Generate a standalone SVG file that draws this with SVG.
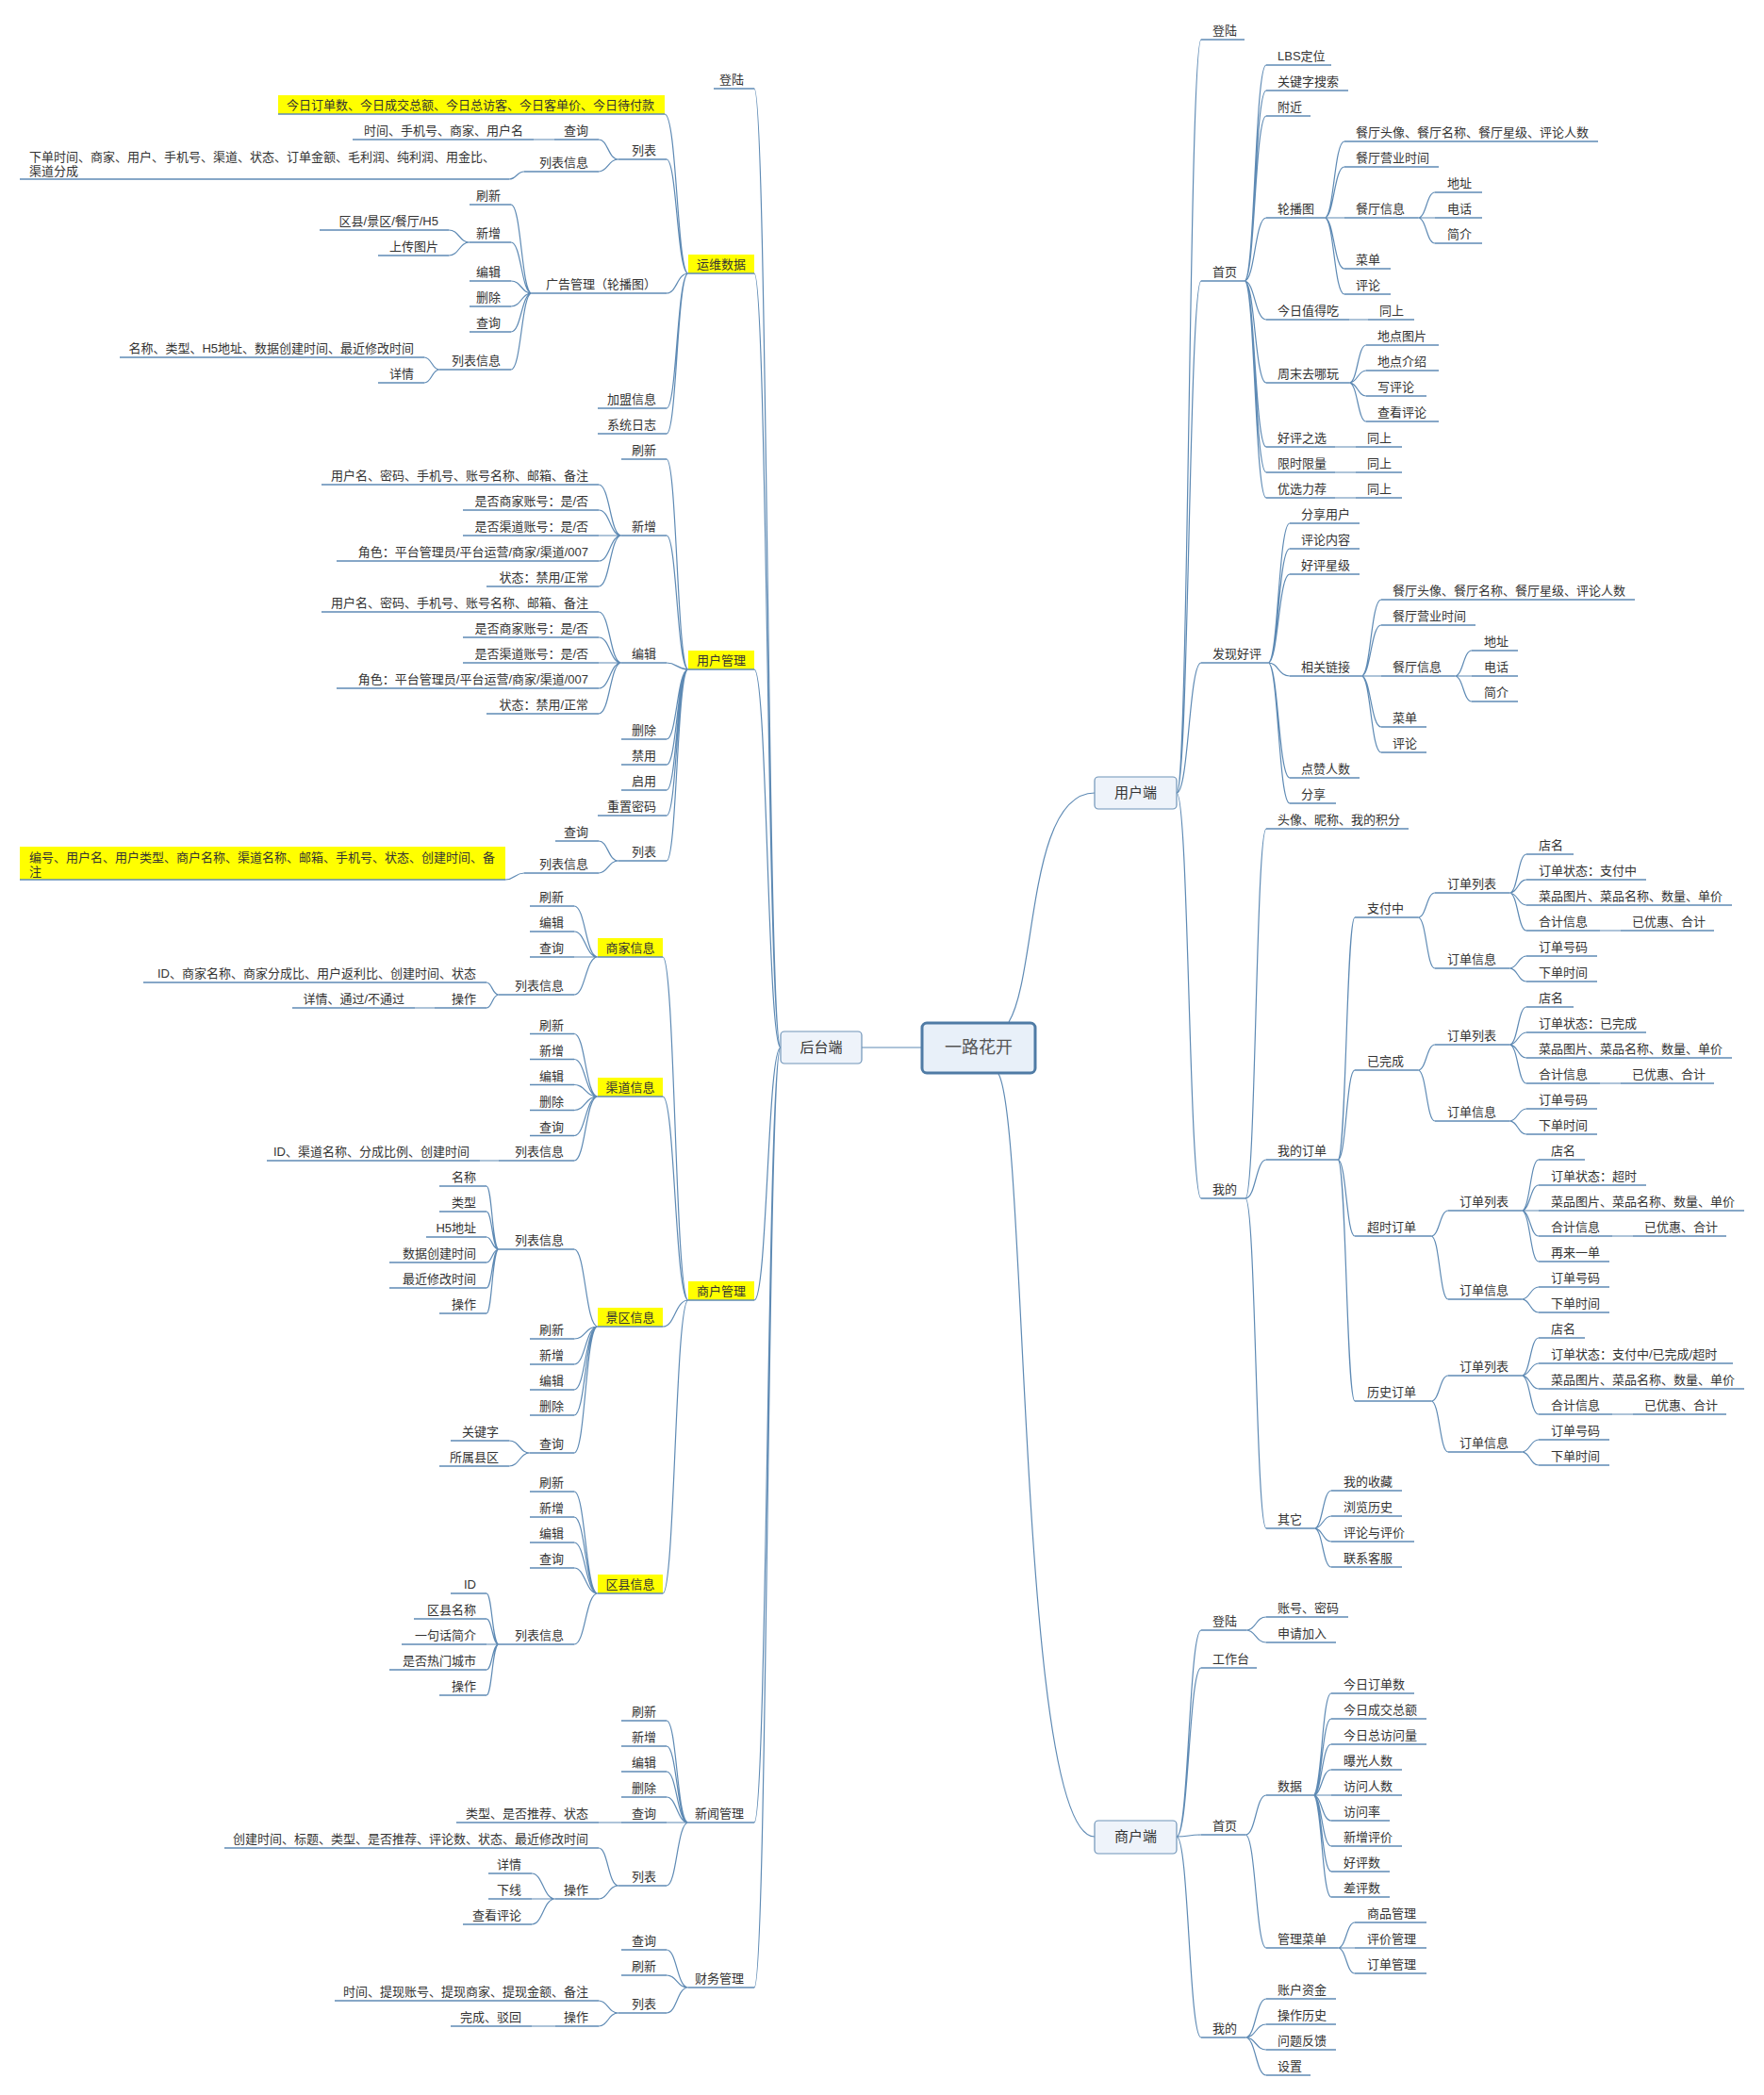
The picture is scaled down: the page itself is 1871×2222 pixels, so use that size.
<svg xmlns="http://www.w3.org/2000/svg" width="1871" height="2222" viewBox="0 0 1871 2222">
<style>
.t{font-family:"Liberation Sans","Noto Sans CJK SC",sans-serif;font-size:13px;fill:#333}
.e{text-anchor:end}
.m{text-anchor:middle}
.u{stroke:#5e8ab4;stroke-width:1.3;fill:none}
.c{stroke:#5e8ab4;stroke-width:1.2;fill:none}
.hl{fill:#ffff00}
.box{fill:#eef3fa;stroke:#6f94b8;stroke-width:1.2}
.root{fill:#e8f0f9;stroke:#4f7ba5;stroke-width:3}
.bt{font-size:15px}
.rt{font-size:18px;fill:#555}
</style>
<rect width="1871" height="2222" fill="#ffffff"/>
<g id="connectors" class="c">
<path d="M1070 1084C1100 1035 1090 841 1161 841"/>
<path d="M1059 1139C1090 1190 1080 1948 1161 1948"/>
<path d="M977 1111H914"/>
<path d="M828 1111C814 1111 814 94 800 94M828 1111C814 1111 814 290 800 290M828 1111C814 1111 814 710 800 710M828 1111C814 1111 814 1379 800 1379M828 1111C814 1111 814 1933 800 1933M828 1111C814 1111 814 2108 800 2108"/>
<path d="M730 290C718 290 718 121 705 121M730 290C718 290 718 169 707 169M730 290C718 290 718 311 707 311M730 290C718 290 718 433 707 433M730 290C718 290 718 460 707 460"/>
<path d="M656 169C645 169 645 148 635 148M656 169C645 169 645 182 635 182M588 148H566M556 182C548 182 548 190 540 190"/>
<path d="M564 311C553 311 553 217 542 217M564 311C553 311 553 257 542 257M564 311C553 311 553 298 542 298M564 311C553 311 553 325 542 325M564 311C553 311 553 352 542 352M564 311C553 311 553 392 542 392"/>
<path d="M498 257C487 257 487 244 476 244M498 257C487 257 487 271 476 271M466 392C458 392 458 379 450 379M466 392C458 392 458 406 450 406"/>
<path d="M730 710C718 710 718 487 707 487M730 710C718 710 718 568 707 568M730 710C718 710 718 703 707 703M730 710C718 710 718 784 707 784M730 710C718 710 718 811 707 811M730 710C718 710 718 838 707 838M730 710C718 710 718 865 707 865M730 710C718 710 718 913 707 913"/>
<path d="M659 568C647 568 647 514 635 514M659 568C647 568 647 541 635 541M659 568H635M659 568C647 568 647 595 635 595M659 568C647 568 647 622 635 622"/>
<path d="M659 703C647 703 647 649 635 649M659 703C647 703 647 676 635 676M659 703H635M659 703C647 703 647 730 635 730M659 703C647 703 647 757 635 757"/>
<path d="M656 913C645 913 645 892 635 892M656 913C645 913 645 926 635 926M556 926C546 926 546 933 536 933"/>
<path d="M730 1379C716 1379 716 1015 703 1015M730 1379C716 1379 716 1163 703 1163M730 1379C716 1379 716 1407 703 1407M730 1379C716 1379 716 1690 703 1690"/>
<path d="M634 1015C621 1015 621 961 609 961M634 1015C621 1015 621 988 609 988M634 1015H609M634 1015C621 1015 621 1055 609 1055M529 1055C522 1055 522 1042 516 1042M529 1055C522 1055 522 1069 516 1069M461 1069H440"/>
<path d="M634 1163C621 1163 621 1096.5 609 1096.5M634 1163C621 1163 621 1123.5 609 1123.5M634 1163C621 1163 621 1150.5 609 1150.5M634 1163C621 1163 621 1177.5 609 1177.5M634 1163C621 1163 621 1204.5 609 1204.5M634 1163C621 1163 621 1231 609 1231M529 1231H509"/>
<path d="M634 1407C621 1407 621 1325 609 1325M634 1407C621 1407 621 1420 609 1420M634 1407C621 1407 621 1447 609 1447M634 1407C621 1407 621 1474 609 1474M634 1407C621 1407 621 1501 609 1501M634 1407C621 1407 621 1541 609 1541"/>
<path d="M529 1325C522 1325 522 1258 516 1258M529 1325C522 1325 522 1285 516 1285M529 1325C522 1325 522 1312 516 1312M529 1325C522 1325 522 1339 516 1339M529 1325C522 1325 522 1366 516 1366M529 1325C522 1325 522 1393 516 1393M562 1541C551 1541 551 1528 540 1528M562 1541C551 1541 551 1555 540 1555"/>
<path d="M634 1690C621 1690 621 1582 609 1582M634 1690C621 1690 621 1609 609 1609M634 1690C621 1690 621 1636 609 1636M634 1690C621 1690 621 1663 609 1663M634 1690C621 1690 621 1744 609 1744"/>
<path d="M529 1744C522 1744 522 1690 516 1690M529 1744C522 1744 522 1717 516 1717M529 1744H516M529 1744C522 1744 522 1771 516 1771M529 1744C522 1744 522 1798 516 1798"/>
<path d="M730 1933C718 1933 718 1825 707 1825M730 1933C718 1933 718 1852 707 1852M730 1933C718 1933 718 1879 707 1879M730 1933C718 1933 718 1906 707 1906M730 1933H707M730 1933C718 1933 718 2000 707 2000M659 1933H635"/>
<path d="M656 2000C645 2000 645 1960 635 1960M656 2000C645 2000 645 2014 635 2014M589 2014C576 2014 576 1987 564 1987M589 2014H564M589 2014C576 2014 576 2041 564 2041"/>
<path d="M730 2108C718 2108 718 2068 707 2068M730 2108C718 2108 718 2095 707 2095M730 2108C718 2108 718 2135 707 2135M656 2135C645 2135 645 2122 635 2122M656 2135C645 2135 645 2149 635 2149M589 2149H564"/>
<path d="M1248 841C1261 841 1261 42 1274 42M1248 841C1261 841 1261 298 1274 298M1248 841C1261 841 1261 703 1274 703M1248 841C1261 841 1261 1271 1274 1271"/>
<path d="M1320 298C1331 298 1331 69 1343 69M1320 298C1331 298 1331 96 1343 96M1320 298C1331 298 1331 123 1343 123M1320 298C1331 298 1331 231 1343 231M1320 298C1331 298 1331 339 1343 339M1320 298C1331 298 1331 406 1343 406M1320 298C1331 298 1331 474 1343 474M1320 298C1331 298 1331 501 1343 501M1320 298C1331 298 1331 528 1343 528"/>
<path d="M1405 231C1415 231 1415 150 1426 150M1405 231C1415 231 1415 177 1426 177M1405 231H1426M1405 231C1415 231 1415 285 1426 285M1405 231C1415 231 1415 312 1426 312M1504 231C1513 231 1513 204 1522 204M1504 231H1522M1504 231C1513 231 1513 258 1522 258"/>
<path d="M1431 339H1451M1431 406C1440 406 1440 366 1449 366M1431 406C1440 406 1440 393 1449 393M1431 406C1440 406 1440 420 1449 420M1431 406C1440 406 1440 447 1449 447M1416 474H1438M1416 501H1438M1416 528H1438"/>
<path d="M1345 703C1356 703 1356 555 1368 555M1345 703C1356 703 1356 582 1368 582M1345 703C1356 703 1356 609 1368 609M1345 703C1356 703 1356 717 1368 717M1345 703C1356 703 1356 825 1368 825M1345 703C1356 703 1356 852 1368 852"/>
<path d="M1444 717C1454 717 1454 636 1465 636M1444 717C1454 717 1454 663 1465 663M1444 717H1465M1444 717C1454 717 1454 771 1465 771M1444 717C1454 717 1454 798 1465 798M1543 717C1552 717 1552 690 1561 690M1543 717H1561M1543 717C1552 717 1552 744 1561 744"/>
<path d="M1321 1271C1332 1271 1332 879 1343 879M1321 1271C1332 1271 1332 1230 1343 1230M1321 1271C1332 1271 1332 1621 1343 1621"/>
<path d="M1419 1230C1428 1230 1428 973 1437 973M1419 1230C1428 1230 1428 1135 1437 1135M1419 1230C1428 1230 1428 1311 1437 1311M1419 1230C1428 1230 1428 1486 1437 1486"/>
<path d="M1504 973C1513 973 1513 947 1522 947M1504 973C1513 973 1513 1027 1522 1027M1601 947C1610 947 1610 906 1619 906M1601 947C1610 947 1610 933 1619 933M1601 947C1610 947 1610 960 1619 960M1601 947C1610 947 1610 987 1619 987M1697 987H1719M1601 1027C1610 1027 1610 1014 1619 1014M1601 1027C1610 1027 1610 1041 1619 1041"/>
<path d="M1504 1135C1513 1135 1513 1108 1522 1108M1504 1135C1513 1135 1513 1189 1522 1189M1601 1108C1610 1108 1610 1068 1619 1068M1601 1108C1610 1108 1610 1095 1619 1095M1601 1108C1610 1108 1610 1122 1619 1122M1601 1108C1610 1108 1610 1149 1619 1149M1697 1149H1719M1601 1189C1610 1189 1610 1176 1619 1176M1601 1189C1610 1189 1610 1203 1619 1203"/>
<path d="M1518 1311C1527 1311 1527 1284 1536 1284M1518 1311C1527 1311 1527 1378 1536 1378M1614 1284C1623 1284 1623 1230 1632 1230M1614 1284C1623 1284 1623 1257 1632 1257M1614 1284H1632M1614 1284C1623 1284 1623 1311 1632 1311M1614 1284C1623 1284 1623 1338 1632 1338M1710 1311H1732M1614 1378C1623 1378 1623 1365 1632 1365M1614 1378C1623 1378 1623 1392 1632 1392"/>
<path d="M1518 1486C1527 1486 1527 1459 1536 1459M1518 1486C1527 1486 1527 1540 1536 1540M1614 1459C1623 1459 1623 1419 1632 1419M1614 1459C1623 1459 1623 1446 1632 1446M1614 1459C1623 1459 1623 1473 1632 1473M1614 1459C1623 1459 1623 1500 1632 1500M1710 1500H1732M1614 1540C1623 1540 1623 1527 1632 1527M1614 1540C1623 1540 1623 1554 1632 1554"/>
<path d="M1394 1621C1403 1621 1403 1581 1412 1581M1394 1621C1403 1621 1403 1608 1412 1608M1394 1621C1403 1621 1403 1635 1412 1635M1394 1621C1403 1621 1403 1662 1412 1662"/>
<path d="M1248 1948C1261 1948 1261 1729 1274 1729M1248 1948C1261 1948 1261 1769 1274 1769M1248 1948C1261 1948 1261 1946 1274 1946M1248 1948C1261 1948 1261 2161 1274 2161"/>
<path d="M1322 1729C1332 1729 1332 1715 1343 1715M1322 1729C1332 1729 1332 1742 1343 1742M1321 1946C1332 1946 1332 1904 1343 1904M1321 1946C1332 1946 1332 2066 1343 2066"/>
<path d="M1393 1904C1402 1904 1402 1796 1412 1796M1393 1904C1402 1904 1402 1823 1412 1823M1393 1904C1402 1904 1402 1850 1412 1850M1393 1904C1402 1904 1402 1877 1412 1877M1393 1904H1412M1393 1904C1402 1904 1402 1931 1412 1931M1393 1904C1402 1904 1402 1958 1412 1958M1393 1904C1402 1904 1402 1985 1412 1985M1393 1904C1402 1904 1402 2012 1412 2012"/>
<path d="M1419 2066C1428 2066 1428 2039 1437 2039M1419 2066H1437M1419 2066C1428 2066 1428 2093 1437 2093"/>
<path d="M1321 2161C1332 2161 1332 2120 1343 2120M1321 2161C1332 2161 1332 2147 1343 2147M1321 2161C1332 2161 1332 2174 1343 2174M1321 2161C1332 2161 1332 2201 1343 2201"/>
</g>
<g id="root"><rect class="root" x="978" y="1085" width="120" height="53" rx="5"/><text class="t m rt" x="1038" y="1117">一路花开</text></g>
<g id="backend"><rect class="box" x="828" y="1094" width="86" height="34" rx="4"/><text class="t m bt" x="871" y="1116">后台端</text></g>
<g id="userend"><rect class="box" x="1161" y="824" width="87" height="34" rx="4"/><text class="t m bt" x="1204.5" y="846">用户端</text></g>
<g id="merchantend"><rect class="box" x="1161" y="1931" width="87" height="35" rx="4"/><text class="t m bt" x="1204.5" y="1953">商户端</text></g>

<g id="b1"><text class="t e" x="789" y="89">登陆</text><path class="u" d="M757 94H800"/></g>
<g id="b2"><rect class="hl" x="730" y="270" width="70" height="20"/><text class="t m" x="765" y="285">运维数据</text><path class="u" d="M730 290H800"/></g>
<g id="b2a"><rect class="hl" x="295" y="101" width="410" height="20"/><text class="t" x="304" y="116">今日订单数、今日成交总额、今日总访客、今日客单价、今日待付款</text><path class="u" d="M295 121H705"/></g>
<g id="b2b"><text class="t e" x="696" y="164">列表</text><path class="u" d="M656 169H707"/></g>
<g id="b2b1"><text class="t e" x="624" y="143">查询</text><path class="u" d="M588 148H635"/></g>
<g id="b2b1a"><text class="t e" x="555" y="143">时间、手机号、商家、用户名</text><path class="u" d="M374 148H566"/></g>
<g id="b2b2"><text class="t e" x="624" y="177">列表信息</text><path class="u" d="M556 182H635"/></g>
<g id="b2b2a"><text class="t" x="31" y="171">下单时间、商家、用户、手机号、渠道、状态、订单金额、毛利润、纯利润、用金比、</text><text class="t" x="31" y="186">渠道分成</text><path class="u" d="M21 190H540"/></g>
<g id="b2c"><text class="t e" x="696" y="306">广告管理（轮播图）</text><path class="u" d="M564 311H707"/></g>
<g id="b2c1"><text class="t e" x="531" y="212">刷新</text><path class="u" d="M498 217H542"/></g>
<g id="b2c2"><text class="t e" x="531" y="252">新增</text><path class="u" d="M498 257H542"/></g>
<g id="b2c2a"><text class="t e" x="465" y="239">区县/景区/餐厅/H5</text><path class="u" d="M339 244H476"/></g>
<g id="b2c2b"><text class="t e" x="465" y="266">上传图片</text><path class="u" d="M401 271H476"/></g>
<g id="b2c3"><text class="t e" x="531" y="293">编辑</text><path class="u" d="M498 298H542"/></g>
<g id="b2c4"><text class="t e" x="531" y="320">删除</text><path class="u" d="M498 325H542"/></g>
<g id="b2c5"><text class="t e" x="531" y="347">查询</text><path class="u" d="M498 352H542"/></g>
<g id="b2c6"><text class="t e" x="531" y="387">列表信息</text><path class="u" d="M466 392H542"/></g>
<g id="b2c6a"><text class="t e" x="439" y="374">名称、类型、H5地址、数据创建时间、最近修改时间</text><path class="u" d="M127 379H450"/></g>
<g id="b2c6b"><text class="t e" x="439" y="401">详情</text><path class="u" d="M401 406H450"/></g>
<g id="b2d"><text class="t e" x="696" y="428">加盟信息</text><path class="u" d="M634 433H707"/></g>
<g id="b2e"><text class="t e" x="696" y="455">系统日志</text><path class="u" d="M634 460H707"/></g>

<g id="b3"><rect class="hl" x="730" y="690" width="70" height="20"/><text class="t m" x="765" y="705">用户管理</text><path class="u" d="M730 710H800"/></g>
<g id="b3a"><text class="t e" x="696" y="482">刷新</text><path class="u" d="M659 487H707"/></g>
<g id="b3b"><text class="t e" x="696" y="563">新增</text><path class="u" d="M659 568H707"/></g>
<g id="b3b1"><text class="t e" x="624" y="509">用户名、密码、手机号、账号名称、邮箱、备注</text><path class="u" d="M341 514H635"/></g>
<g id="b3b2"><text class="t e" x="624" y="536">是否商家账号：是/否</text><path class="u" d="M491 541H635"/></g>
<g id="b3b3"><text class="t e" x="624" y="563">是否渠道账号：是/否</text><path class="u" d="M491 568H635"/></g>
<g id="b3b4"><text class="t e" x="624" y="590">角色：平台管理员/平台运营/商家/渠道/007</text><path class="u" d="M357 595H635"/></g>
<g id="b3b5"><text class="t e" x="624" y="617">状态：禁用/正常</text><path class="u" d="M516 622H635"/></g>
<g id="b3c"><text class="t e" x="696" y="698">编辑</text><path class="u" d="M659 703H707"/></g>
<g id="b3c1"><text class="t e" x="624" y="644">用户名、密码、手机号、账号名称、邮箱、备注</text><path class="u" d="M341 649H635"/></g>
<g id="b3c2"><text class="t e" x="624" y="671">是否商家账号：是/否</text><path class="u" d="M491 676H635"/></g>
<g id="b3c3"><text class="t e" x="624" y="698">是否渠道账号：是/否</text><path class="u" d="M491 703H635"/></g>
<g id="b3c4"><text class="t e" x="624" y="725">角色：平台管理员/平台运营/商家/渠道/007</text><path class="u" d="M357 730H635"/></g>
<g id="b3c5"><text class="t e" x="624" y="752">状态：禁用/正常</text><path class="u" d="M516 757H635"/></g>
<g id="b3d"><text class="t e" x="696" y="779">删除</text><path class="u" d="M659 784H707"/></g>
<g id="b3e"><text class="t e" x="696" y="806">禁用</text><path class="u" d="M659 811H707"/></g>
<g id="b3f"><text class="t e" x="696" y="833">启用</text><path class="u" d="M659 838H707"/></g>
<g id="b3g"><text class="t e" x="696" y="860">重置密码</text><path class="u" d="M634 865H707"/></g>
<g id="b3h"><text class="t e" x="696" y="908">列表</text><path class="u" d="M656 913H707"/></g>
<g id="b3h1"><text class="t e" x="624" y="887">查询</text><path class="u" d="M589 892H635"/></g>
<g id="b3h2"><text class="t e" x="624" y="921">列表信息</text><path class="u" d="M556 926H635"/></g>
<g id="b3h2a"><rect class="hl" x="21" y="898" width="515" height="35"/><text class="t" x="31" y="914">编号、用户名、用户类型、商户名称、渠道名称、邮箱、手机号、状态、创建时间、备</text><text class="t" x="31" y="929">注</text><path class="u" d="M21 933H536"/></g>

<g id="b4"><rect class="hl" x="730" y="1359" width="70" height="20"/><text class="t m" x="765" y="1374">商户管理</text><path class="u" d="M730 1379H800"/></g>
<g id="b4a"><rect class="hl" x="634" y="995" width="69" height="20"/><text class="t m" x="668.5" y="1010">商家信息</text><path class="u" d="M634 1015H703"/></g>
<g id="b4a1"><text class="t e" x="598" y="956">刷新</text><path class="u" d="M562 961H609"/></g>
<g id="b4a2"><text class="t e" x="598" y="983">编辑</text><path class="u" d="M562 988H609"/></g>
<g id="b4a3"><text class="t e" x="598" y="1010">查询</text><path class="u" d="M562 1015H609"/></g>
<g id="b4a4"><text class="t e" x="598" y="1050">列表信息</text><path class="u" d="M529 1055H609"/></g>
<g id="b4a4a"><text class="t e" x="505" y="1037">ID、商家名称、商家分成比、用户返利比、创建时间、状态</text><path class="u" d="M152 1042H516"/></g>
<g id="b4a4b"><text class="t e" x="505" y="1064">操作</text><path class="u" d="M461 1069H516"/></g>
<g id="b4a4b1"><text class="t e" x="429" y="1064">详情、通过/不通过</text><path class="u" d="M310 1069H440"/></g>
<g id="b4b"><rect class="hl" x="634" y="1143" width="69" height="20"/><text class="t m" x="668.5" y="1158">渠道信息</text><path class="u" d="M634 1163H703"/></g>
<g id="b4b1"><text class="t e" x="598" y="1091.5">刷新</text><path class="u" d="M562 1096.5H609"/></g>
<g id="b4b2"><text class="t e" x="598" y="1118.5">新增</text><path class="u" d="M562 1123.5H609"/></g>
<g id="b4b3"><text class="t e" x="598" y="1145.5">编辑</text><path class="u" d="M562 1150.5H609"/></g>
<g id="b4b4"><text class="t e" x="598" y="1172.5">删除</text><path class="u" d="M562 1177.5H609"/></g>
<g id="b4b5"><text class="t e" x="598" y="1199.5">查询</text><path class="u" d="M562 1204.5H609"/></g>
<g id="b4b6"><text class="t e" x="598" y="1226">列表信息</text><path class="u" d="M529 1231H609"/></g>
<g id="b4b6a"><text class="t e" x="498" y="1226">ID、渠道名称、分成比例、创建时间</text><path class="u" d="M283 1231H509"/></g>
<g id="b4c"><rect class="hl" x="634" y="1387" width="69" height="20"/><text class="t m" x="668.5" y="1402">景区信息</text><path class="u" d="M634 1407H703"/></g>
<g id="b4c1"><text class="t e" x="598" y="1320">列表信息</text><path class="u" d="M529 1325H609"/></g>
<g id="b4c1a"><text class="t e" x="505" y="1253">名称</text><path class="u" d="M466 1258H516"/></g>
<g id="b4c1b"><text class="t e" x="505" y="1280">类型</text><path class="u" d="M466 1285H516"/></g>
<g id="b4c1c"><text class="t e" x="505" y="1307">H5地址</text><path class="u" d="M452 1312H516"/></g>
<g id="b4c1d"><text class="t e" x="505" y="1334">数据创建时间</text><path class="u" d="M413 1339H516"/></g>
<g id="b4c1e"><text class="t e" x="505" y="1361">最近修改时间</text><path class="u" d="M413 1366H516"/></g>
<g id="b4c1f"><text class="t e" x="505" y="1388">操作</text><path class="u" d="M466 1393H516"/></g>
<g id="b4c2"><text class="t e" x="598" y="1415">刷新</text><path class="u" d="M562 1420H609"/></g>
<g id="b4c3"><text class="t e" x="598" y="1442">新增</text><path class="u" d="M562 1447H609"/></g>
<g id="b4c4"><text class="t e" x="598" y="1469">编辑</text><path class="u" d="M562 1474H609"/></g>
<g id="b4c5"><text class="t e" x="598" y="1496">删除</text><path class="u" d="M562 1501H609"/></g>
<g id="b4c6"><text class="t e" x="598" y="1536">查询</text><path class="u" d="M562 1541H609"/></g>
<g id="b4c6a"><text class="t e" x="529" y="1523">关键字</text><path class="u" d="M478 1528H540"/></g>
<g id="b4c6b"><text class="t e" x="529" y="1550">所属县区</text><path class="u" d="M466 1555H540"/></g>
<g id="b4d"><rect class="hl" x="634" y="1670" width="69" height="20"/><text class="t m" x="668.5" y="1685">区县信息</text><path class="u" d="M634 1690H703"/></g>
<g id="b4d1"><text class="t e" x="598" y="1577">刷新</text><path class="u" d="M562 1582H609"/></g>
<g id="b4d2"><text class="t e" x="598" y="1604">新增</text><path class="u" d="M562 1609H609"/></g>
<g id="b4d3"><text class="t e" x="598" y="1631">编辑</text><path class="u" d="M562 1636H609"/></g>
<g id="b4d4"><text class="t e" x="598" y="1658">查询</text><path class="u" d="M562 1663H609"/></g>
<g id="b4d5"><text class="t e" x="598" y="1739">列表信息</text><path class="u" d="M529 1744H609"/></g>
<g id="b4d5a"><text class="t e" x="505" y="1685">ID</text><path class="u" d="M478 1690H516"/></g>
<g id="b4d5b"><text class="t e" x="505" y="1712">区县名称</text><path class="u" d="M439 1717H516"/></g>
<g id="b4d5c"><text class="t e" x="505" y="1739">一句话简介</text><path class="u" d="M426 1744H516"/></g>
<g id="b4d5d"><text class="t e" x="505" y="1766">是否热门城市</text><path class="u" d="M413 1771H516"/></g>
<g id="b4d5e"><text class="t e" x="505" y="1793">操作</text><path class="u" d="M466 1798H516"/></g>

<g id="b5"><text class="t e" x="789" y="1928">新闻管理</text><path class="u" d="M730 1933H800"/></g>
<g id="b5a"><text class="t e" x="696" y="1820">刷新</text><path class="u" d="M659 1825H707"/></g>
<g id="b5b"><text class="t e" x="696" y="1847">新增</text><path class="u" d="M659 1852H707"/></g>
<g id="b5c"><text class="t e" x="696" y="1874">编辑</text><path class="u" d="M659 1879H707"/></g>
<g id="b5d"><text class="t e" x="696" y="1901">删除</text><path class="u" d="M659 1906H707"/></g>
<g id="b5e"><text class="t e" x="696" y="1928">查询</text><path class="u" d="M659 1933H707"/></g>
<g id="b5e1"><text class="t e" x="624" y="1928">类型、是否推荐、状态</text><path class="u" d="M484 1933H635"/></g>
<g id="b5f"><text class="t e" x="696" y="1995">列表</text><path class="u" d="M656 2000H707"/></g>
<g id="b5f1"><text class="t e" x="624" y="1955">创建时间、标题、类型、是否推荐、评论数、状态、最近修改时间</text><path class="u" d="M238 1960H635"/></g>
<g id="b5f2"><text class="t e" x="624" y="2009">操作</text><path class="u" d="M589 2014H635"/></g>
<g id="b5f2a"><text class="t e" x="553" y="1982">详情</text><path class="u" d="M518 1987H564"/></g>
<g id="b5f2b"><text class="t e" x="553" y="2009">下线</text><path class="u" d="M518 2014H564"/></g>
<g id="b5f2c"><text class="t e" x="553" y="2036">查看评论</text><path class="u" d="M491 2041H564"/></g>

<g id="b6"><text class="t e" x="789" y="2103">财务管理</text><path class="u" d="M730 2108H800"/></g>
<g id="b6a"><text class="t e" x="696" y="2063">查询</text><path class="u" d="M659 2068H707"/></g>
<g id="b6b"><text class="t e" x="696" y="2090">刷新</text><path class="u" d="M659 2095H707"/></g>
<g id="b6c"><text class="t e" x="696" y="2130">列表</text><path class="u" d="M656 2135H707"/></g>
<g id="b6c1"><text class="t e" x="624" y="2117">时间、提现账号、提现商家、提现金额、备注</text><path class="u" d="M355 2122H635"/></g>
<g id="b6c2"><text class="t e" x="624" y="2144">操作</text><path class="u" d="M589 2149H635"/></g>
<g id="b6c2a"><text class="t e" x="553" y="2144">完成、驳回</text><path class="u" d="M478 2149H564"/></g>

<g id="u1"><text class="t" x="1286" y="37">登陆</text><path class="u" d="M1274 42H1320"/></g>
<g id="u2"><text class="t" x="1286" y="293">首页</text><path class="u" d="M1274 298H1320"/></g>
<g id="u2a"><text class="t" x="1355" y="64">LBS定位</text><path class="u" d="M1343 69H1412"/></g>
<g id="u2b"><text class="t" x="1355" y="91">关键字搜索</text><path class="u" d="M1343 96H1430"/></g>
<g id="u2c"><text class="t" x="1355" y="118">附近</text><path class="u" d="M1343 123H1390"/></g>
<g id="u2d"><text class="t" x="1355" y="226">轮播图</text><path class="u" d="M1343 231H1405"/></g>
<g id="u2d1"><text class="t" x="1438" y="145">餐厅头像、餐厅名称、餐厅星级、评论人数</text><path class="u" d="M1426 150H1695"/></g>
<g id="u2d2"><text class="t" x="1438" y="172">餐厅营业时间</text><path class="u" d="M1426 177H1526"/></g>
<g id="u2d3"><text class="t" x="1438" y="226">餐厅信息</text><path class="u" d="M1426 231H1504"/></g>
<g id="u2d3a"><text class="t" x="1535" y="199">地址</text><path class="u" d="M1522 204H1572"/></g>
<g id="u2d3b"><text class="t" x="1535" y="226">电话</text><path class="u" d="M1522 231H1572"/></g>
<g id="u2d3c"><text class="t" x="1535" y="253">简介</text><path class="u" d="M1522 258H1572"/></g>
<g id="u2d4"><text class="t" x="1438" y="280">菜单</text><path class="u" d="M1426 285H1475"/></g>
<g id="u2d5"><text class="t" x="1438" y="307">评论</text><path class="u" d="M1426 312H1475"/></g>
<g id="u2e"><text class="t" x="1355" y="334">今日值得吃</text><path class="u" d="M1343 339H1431"/></g>
<g id="u2e1"><text class="t" x="1463" y="334">同上</text><path class="u" d="M1451 339H1500"/></g>
<g id="u2f"><text class="t" x="1355" y="401">周末去哪玩</text><path class="u" d="M1343 406H1431"/></g>
<g id="u2f1"><text class="t" x="1461" y="361">地点图片</text><path class="u" d="M1449 366H1526"/></g>
<g id="u2f2"><text class="t" x="1461" y="388">地点介绍</text><path class="u" d="M1449 393H1526"/></g>
<g id="u2f3"><text class="t" x="1461" y="415">写评论</text><path class="u" d="M1449 420H1513"/></g>
<g id="u2f4"><text class="t" x="1461" y="442">查看评论</text><path class="u" d="M1449 447H1526"/></g>
<g id="u2g"><text class="t" x="1355" y="469">好评之选</text><path class="u" d="M1343 474H1416"/></g>
<g id="u2g1"><text class="t" x="1450" y="469">同上</text><path class="u" d="M1438 474H1487"/></g>
<g id="u2h"><text class="t" x="1355" y="496">限时限量</text><path class="u" d="M1343 501H1416"/></g>
<g id="u2h1"><text class="t" x="1450" y="496">同上</text><path class="u" d="M1438 501H1487"/></g>
<g id="u2i"><text class="t" x="1355" y="523">优选力荐</text><path class="u" d="M1343 528H1416"/></g>
<g id="u2i1"><text class="t" x="1450" y="523">同上</text><path class="u" d="M1438 528H1487"/></g>

<g id="u3"><text class="t" x="1286" y="698">发现好评</text><path class="u" d="M1274 703H1345"/></g>
<g id="u3a"><text class="t" x="1380" y="550">分享用户</text><path class="u" d="M1368 555H1442"/></g>
<g id="u3b"><text class="t" x="1380" y="577">评论内容</text><path class="u" d="M1368 582H1442"/></g>
<g id="u3c"><text class="t" x="1380" y="604">好评星级</text><path class="u" d="M1368 609H1442"/></g>
<g id="u3d"><text class="t" x="1380" y="712">相关链接</text><path class="u" d="M1368 717H1444"/></g>
<g id="u3d1"><text class="t" x="1477" y="631">餐厅头像、餐厅名称、餐厅星级、评论人数</text><path class="u" d="M1465 636H1734"/></g>
<g id="u3d2"><text class="t" x="1477" y="658">餐厅营业时间</text><path class="u" d="M1465 663H1565"/></g>
<g id="u3d3"><text class="t" x="1477" y="712">餐厅信息</text><path class="u" d="M1465 717H1543"/></g>
<g id="u3d3a"><text class="t" x="1574" y="685">地址</text><path class="u" d="M1561 690H1610"/></g>
<g id="u3d3b"><text class="t" x="1574" y="712">电话</text><path class="u" d="M1561 717H1610"/></g>
<g id="u3d3c"><text class="t" x="1574" y="739">简介</text><path class="u" d="M1561 744H1610"/></g>
<g id="u3d4"><text class="t" x="1477" y="766">菜单</text><path class="u" d="M1465 771H1513"/></g>
<g id="u3d5"><text class="t" x="1477" y="793">评论</text><path class="u" d="M1465 798H1513"/></g>
<g id="u3e"><text class="t" x="1380" y="820">点赞人数</text><path class="u" d="M1368 825H1442"/></g>
<g id="u3f"><text class="t" x="1380" y="847">分享</text><path class="u" d="M1368 852H1417"/></g>

<g id="u4"><text class="t" x="1286" y="1266">我的</text><path class="u" d="M1274 1271H1321"/></g>
<g id="u4a"><text class="t" x="1355" y="874">头像、昵称、我的积分</text><path class="u" d="M1343 879H1494"/></g>
<g id="u4b"><text class="t" x="1355" y="1225">我的订单</text><path class="u" d="M1343 1230H1419"/></g>
<g id="u4b1"><text class="t" x="1450" y="968">支付中</text><path class="u" d="M1437 973H1504"/></g>
<g id="u4b1a"><text class="t" x="1535" y="942">订单列表</text><path class="u" d="M1522 947H1601"/></g>
<g id="u4b1a1"><text class="t" x="1632" y="901">店名</text><path class="u" d="M1619 906H1669"/></g>
<g id="u4b1a2"><text class="t" x="1632" y="928">订单状态：支付中</text><path class="u" d="M1619 933H1746"/></g>
<g id="u4b1a3"><text class="t" x="1632" y="955">菜品图片、菜品名称、数量、单价</text><path class="u" d="M1619 960H1837"/></g>
<g id="u4b1a4"><text class="t" x="1632" y="982">合计信息</text><path class="u" d="M1619 987H1697"/></g>
<g id="u4b1a4a"><text class="t" x="1731" y="982">已优惠、合计</text><path class="u" d="M1719 987H1818"/></g>
<g id="u4b1b"><text class="t" x="1535" y="1022">订单信息</text><path class="u" d="M1522 1027H1601"/></g>
<g id="u4b1b1"><text class="t" x="1632" y="1009">订单号码</text><path class="u" d="M1619 1014H1694"/></g>
<g id="u4b1b2"><text class="t" x="1632" y="1036">下单时间</text><path class="u" d="M1619 1041H1694"/></g>
<g id="u4b2"><text class="t" x="1450" y="1130">已完成</text><path class="u" d="M1437 1135H1504"/></g>
<g id="u4b2a"><text class="t" x="1535" y="1103">订单列表</text><path class="u" d="M1522 1108H1601"/></g>
<g id="u4b2a1"><text class="t" x="1632" y="1063">店名</text><path class="u" d="M1619 1068H1669"/></g>
<g id="u4b2a2"><text class="t" x="1632" y="1090">订单状态：已完成</text><path class="u" d="M1619 1095H1746"/></g>
<g id="u4b2a3"><text class="t" x="1632" y="1117">菜品图片、菜品名称、数量、单价</text><path class="u" d="M1619 1122H1837"/></g>
<g id="u4b2a4"><text class="t" x="1632" y="1144">合计信息</text><path class="u" d="M1619 1149H1697"/></g>
<g id="u4b2a4a"><text class="t" x="1731" y="1144">已优惠、合计</text><path class="u" d="M1719 1149H1818"/></g>
<g id="u4b2b"><text class="t" x="1535" y="1184">订单信息</text><path class="u" d="M1522 1189H1601"/></g>
<g id="u4b2b1"><text class="t" x="1632" y="1171">订单号码</text><path class="u" d="M1619 1176H1694"/></g>
<g id="u4b2b2"><text class="t" x="1632" y="1198">下单时间</text><path class="u" d="M1619 1203H1694"/></g>
<g id="u4b3"><text class="t" x="1450" y="1306">超时订单</text><path class="u" d="M1437 1311H1518"/></g>
<g id="u4b3a"><text class="t" x="1548" y="1279">订单列表</text><path class="u" d="M1536 1284H1614"/></g>
<g id="u4b3a1"><text class="t" x="1645" y="1225">店名</text><path class="u" d="M1632 1230H1681"/></g>
<g id="u4b3a2"><text class="t" x="1645" y="1252">订单状态：超时</text><path class="u" d="M1632 1257H1746"/></g>
<g id="u4b3a3"><text class="t" x="1645" y="1279">菜品图片、菜品名称、数量、单价</text><path class="u" d="M1632 1284H1850"/></g>
<g id="u4b3a4"><text class="t" x="1645" y="1306">合计信息</text><path class="u" d="M1632 1311H1710"/></g>
<g id="u4b3a4a"><text class="t" x="1744" y="1306">已优惠、合计</text><path class="u" d="M1732 1311H1831"/></g>
<g id="u4b3a5"><text class="t" x="1645" y="1333">再来一单</text><path class="u" d="M1632 1338H1707"/></g>
<g id="u4b3b"><text class="t" x="1548" y="1373">订单信息</text><path class="u" d="M1536 1378H1614"/></g>
<g id="u4b3b1"><text class="t" x="1645" y="1360">订单号码</text><path class="u" d="M1632 1365H1707"/></g>
<g id="u4b3b2"><text class="t" x="1645" y="1387">下单时间</text><path class="u" d="M1632 1392H1707"/></g>
<g id="u4b4"><text class="t" x="1450" y="1481">历史订单</text><path class="u" d="M1437 1486H1518"/></g>
<g id="u4b4a"><text class="t" x="1548" y="1454">订单列表</text><path class="u" d="M1536 1459H1614"/></g>
<g id="u4b4a1"><text class="t" x="1645" y="1414">店名</text><path class="u" d="M1632 1419H1681"/></g>
<g id="u4b4a2"><text class="t" x="1645" y="1441">订单状态：支付中/已完成/超时</text><path class="u" d="M1632 1446H1838"/></g>
<g id="u4b4a3"><text class="t" x="1645" y="1468">菜品图片、菜品名称、数量、单价</text><path class="u" d="M1632 1473H1850"/></g>
<g id="u4b4a4"><text class="t" x="1645" y="1495">合计信息</text><path class="u" d="M1632 1500H1710"/></g>
<g id="u4b4a4a"><text class="t" x="1744" y="1495">已优惠、合计</text><path class="u" d="M1732 1500H1831"/></g>
<g id="u4b4b"><text class="t" x="1548" y="1535">订单信息</text><path class="u" d="M1536 1540H1614"/></g>
<g id="u4b4b1"><text class="t" x="1645" y="1522">订单号码</text><path class="u" d="M1632 1527H1707"/></g>
<g id="u4b4b2"><text class="t" x="1645" y="1549">下单时间</text><path class="u" d="M1632 1554H1707"/></g>
<g id="u4c"><text class="t" x="1355" y="1616">其它</text><path class="u" d="M1343 1621H1394"/></g>
<g id="u4c1"><text class="t" x="1425" y="1576">我的收藏</text><path class="u" d="M1412 1581H1487"/></g>
<g id="u4c2"><text class="t" x="1425" y="1603">浏览历史</text><path class="u" d="M1412 1608H1487"/></g>
<g id="u4c3"><text class="t" x="1425" y="1630">评论与评价</text><path class="u" d="M1412 1635H1500"/></g>
<g id="u4c4"><text class="t" x="1425" y="1657">联系客服</text><path class="u" d="M1412 1662H1487"/></g>

<g id="m1"><text class="t" x="1286" y="1724">登陆</text><path class="u" d="M1274 1729H1322"/></g>
<g id="m1a"><text class="t" x="1355" y="1710">账号、密码</text><path class="u" d="M1343 1715H1430"/></g>
<g id="m1b"><text class="t" x="1355" y="1737">申请加入</text><path class="u" d="M1343 1742H1417"/></g>
<g id="m2"><text class="t" x="1286" y="1764">工作台</text><path class="u" d="M1274 1769H1333"/></g>
<g id="m3"><text class="t" x="1286" y="1941">首页</text><path class="u" d="M1274 1946H1321"/></g>
<g id="m3a"><text class="t" x="1355" y="1899">数据</text><path class="u" d="M1343 1904H1393"/></g>
<g id="m3a1"><text class="t" x="1425" y="1791">今日订单数</text><path class="u" d="M1412 1796H1500"/></g>
<g id="m3a2"><text class="t" x="1425" y="1818">今日成交总额</text><path class="u" d="M1412 1823H1513"/></g>
<g id="m3a3"><text class="t" x="1425" y="1845">今日总访问量</text><path class="u" d="M1412 1850H1513"/></g>
<g id="m3a4"><text class="t" x="1425" y="1872">曝光人数</text><path class="u" d="M1412 1877H1487"/></g>
<g id="m3a5"><text class="t" x="1425" y="1899">访问人数</text><path class="u" d="M1412 1904H1487"/></g>
<g id="m3a6"><text class="t" x="1425" y="1926">访问率</text><path class="u" d="M1412 1931H1474"/></g>
<g id="m3a7"><text class="t" x="1425" y="1953">新增评价</text><path class="u" d="M1412 1958H1487"/></g>
<g id="m3a8"><text class="t" x="1425" y="1980">好评数</text><path class="u" d="M1412 1985H1474"/></g>
<g id="m3a9"><text class="t" x="1425" y="2007">差评数</text><path class="u" d="M1412 2012H1474"/></g>
<g id="m3b"><text class="t" x="1355" y="2061">管理菜单</text><path class="u" d="M1343 2066H1419"/></g>
<g id="m3b1"><text class="t" x="1450" y="2034">商品管理</text><path class="u" d="M1437 2039H1513"/></g>
<g id="m3b2"><text class="t" x="1450" y="2061">评价管理</text><path class="u" d="M1437 2066H1513"/></g>
<g id="m3b3"><text class="t" x="1450" y="2088">订单管理</text><path class="u" d="M1437 2093H1513"/></g>
<g id="m4"><text class="t" x="1286" y="2156">我的</text><path class="u" d="M1274 2161H1321"/></g>
<g id="m4a"><text class="t" x="1355" y="2115">账户资金</text><path class="u" d="M1343 2120H1417"/></g>
<g id="m4b"><text class="t" x="1355" y="2142">操作历史</text><path class="u" d="M1343 2147H1417"/></g>
<g id="m4c"><text class="t" x="1355" y="2169">问题反馈</text><path class="u" d="M1343 2174H1417"/></g>
<g id="m4d"><text class="t" x="1355" y="2196">设置</text><path class="u" d="M1343 2201H1390"/></g>
</svg>
